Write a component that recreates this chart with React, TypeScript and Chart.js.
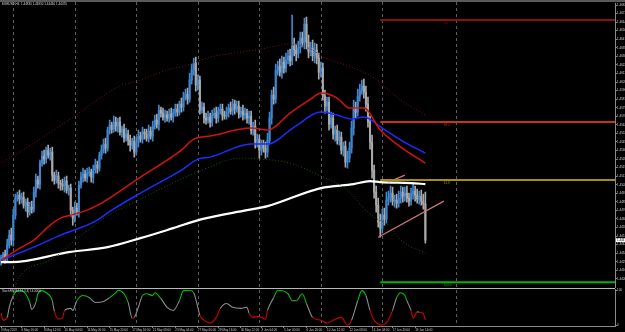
import React, { useEffect, useRef } from "react";
import { Chart, registerables } from "chart.js";

Chart.register(...registerables);

// ---------------- data ----------------
// Prices are kept in pips above 1.44000 (1 pip = 0.0001)
const BASE_PRICE = 1.44;
const PIP = 0.0001;
const SYMBOL = "EURUSD,H4";
const OSC_TITLE = "StochRSI(14,14,3,3)";

const firstOpen = 27;
const closes = [
  29, 33, 30, 42, 52, 47, 72, 89, 92, 88,
  90, 82, 85, 75, 80, 78, 95, 107, 103, 124,
  131, 128, 137, 132, 135, 112, 107, 111, 104, 103,
  101, 106, 97, 99, 77, 69, 79, 75, 102, 110,
  113, 109, 114, 115, 110, 117, 122, 119, 132, 137,
  143, 139, 157, 162, 158, 165, 161, 165, 155, 158,
  149, 153, 147, 142, 146, 135, 145, 151, 148, 155,
  153, 149, 156, 151, 161, 167, 163, 177, 174, 170,
  172, 169, 173, 170, 174, 178, 175, 183, 180, 190,
  193, 188, 207, 217, 224, 202, 207, 177, 180, 169,
  167, 170, 165, 172, 174, 169, 176, 178, 172, 171,
  175, 179, 176, 183, 178, 181, 173, 176, 172, 174,
  169, 171, 157, 161, 145, 148, 137, 142, 139, 135,
  147, 169, 192, 188, 217, 221, 215, 225, 219, 227,
  231, 226, 241, 237, 233, 239, 249, 244, 263, 245,
  235, 239, 231, 237, 229, 215, 219, 191, 181, 185,
  163, 169, 153, 157, 147, 150, 137, 141, 125, 129,
  139, 159, 179, 175, 191, 197, 201, 195, 183, 165,
  145, 117, 95, 82, 65, 59, 72, 68, 87, 90,
  94, 86, 87, 84, 89, 95, 91, 94, 89, 86,
  93, 96, 92, 88, 91, 86, 83, 47,
];
const wickUp = [
  3, 2, 4, 6, 5, 7, 6, 4, 3, 5,
  4, 5, 3, 4, 5, 6, 5, 6, 4, 3,
  5, 6, 3, 5, 4, 5, 3, 6, 4, 3,
  5, 4, 5, 3, 4, 3, 6, 5, 4, 5,
  6, 4, 5, 5, 3, 5, 6, 4, 3, 5,
  5, 6, 3, 5, 3, 6, 5, 4, 5, 3,
  5, 6, 4, 5, 3, 5, 5, 6, 4, 5,
  3, 5, 6, 4, 5, 5, 6, 5, 3, 5,
  5, 4, 5, 6, 4, 5, 5, 3, 6, 5,
  5, 6, 7, 6, 5, 6, 5, 4, 5, 4,
  5, 6, 4, 5, 5, 6, 4, 5, 5, 4,
  5, 4, 6, 5, 4, 5, 5, 4, 6, 5,
  4, 5, 5, 4, 6, 5, 4, 5, 5, 6,
  7, 6, 5, 8, 6, 5, 7, 6, 5, 7,
  6, 7, 31, 8, 6, 7, 6, 6, 6, 7,
  7, 6, 8, 7, 6, 5, 6, 5, 6, 5,
  5, 6, 5, 4, 5, 6, 5, 4, 5, 7,
  6, 7, 8, 6, 7, 6, 6, 7, 6, 7,
  6, 7, 5, 6, 7, 8, 6, 7, 8, 6,
  7, 6, 5, 6, 7, 6, 5, 6, 7, 5,
  6, 7, 5, 6, 5, 6, 7, 12,
];
const wickDown = [
  5, 3, 6, 4, 3, 5, 6, 4, 3, 5,
  4, 3, 6, 5, 3, 4, 3, 5, 4, 5,
  3, 5, 4, 3, 5, 6, 4, 3, 5, 6,
  4, 6, 3, 5, 6, 7, 4, 3, 5, 3,
  5, 3, 4, 3, 5, 6, 3, 5, 3, 4,
  3, 5, 3, 4, 4, 3, 5, 6, 3, 5,
  4, 3, 5, 6, 4, 5, 3, 5, 3, 4,
  5, 3, 4, 3, 5, 3, 4, 6, 4, 3,
  5, 3, 4, 3, 5, 3, 4, 3, 5, 4,
  3, 5, 3, 4, 5, 6, 5, 4, 3, 5,
  4, 3, 5, 4, 3, 5, 4, 3, 5, 3,
  3, 5, 3, 4, 5, 3, 4, 3, 5, 4,
  5, 6, 4, 5, 6, 5, 8, 5, 4, 6,
  5, 4, 6, 5, 4, 5, 4, 6, 5, 4,
  4, 5, 4, 6, 7, 4, 5, 4, 6, 7,
  6, 4, 5, 7, 6, 7, 5, 4, 7, 5,
  6, 4, 5, 7, 4, 5, 4, 6, 5, 6,
  4, 5, 7, 6, 4, 5, 4, 6, 7, 5,
  7, 8, 6, 7, 5, 9, 5, 6, 4, 5,
  5, 4, 6, 5, 4, 5, 6, 5, 4, 5,
  4, 5, 6, 4, 5, 4, 5, 3,
];

// moving averages / bands: bar index + level (pips)
const whiteBars = [0, 5, 33, 52, 68, 84, 98, 120, 130, 156, 172, 180, 185, 200, 207];
const whitePips = [25, 25, 35, 40, 49, 59, 68, 77, 81, 99, 103, 106, 105, 104, 103];
const redBars = [0, 10, 16, 24, 29, 34, 42, 49, 68, 88, 94, 102, 122, 130, 141, 151, 156, 164, 170, 177, 185, 195, 207];
const redPips = [27, 40, 47, 62, 69, 72, 77, 84, 110, 137, 148, 151, 159, 157, 174, 188, 194, 189, 179, 179, 157, 140, 124];
const blueBars = [0, 10, 16, 29, 42, 47, 54, 68, 88, 96, 102, 122, 130, 143, 156, 164, 171, 177, 186, 195, 207];
const bluePips = [27, 35, 40, 52, 62, 67, 77, 94, 117, 128, 130, 143, 143, 160, 175, 172, 168, 170, 159, 147, 134];
const lowerBandBars = [7, 8, 24, 38, 54, 60, 98, 117, 127, 141, 155, 169, 177, 182, 189, 195, 207];
const lowerBandPips = [0, 7, 27, 50, 74, 80, 117, 129, 128, 124, 112, 97, 79, 70, 62, 47, 34];
const upperBandBars = [0, 16, 33, 47, 57, 68, 81, 91, 102, 114, 127, 141, 151, 158, 171, 182, 195, 207];
const upperBandPips = [124, 144, 167, 187, 200, 207, 217, 222, 230, 234, 238, 243, 238, 229, 220, 209, 187, 172];

// Fibonacci levels
const fibLabels = ["0.0", "38.2", "61.8", "100.0"];
const fibPips = [267, 165, 107, 5];
const fibStartBar = 185;
const fibLabelBar = 216;

// trend lines
const trendABars = [184, 216];
const trendAPips = [50, 86];
const trendBBars = [189, 197];
const trendBPips = [105, 112];

// period separators (bar index)
const separatorBars = [6, 36, 66, 96, 126, 156, 186, 222];

// oscillator
const oscBars = [0, 1, 3, 4, 6, 8, 10, 12, 14, 15, 17, 18, 20, 22, 25, 26, 28, 30, 31, 34, 35, 37, 40, 43, 46, 50, 53, 56, 57, 60, 62, 64, 65, 67, 69, 71, 74, 75, 78, 81, 84, 87, 89, 92, 94, 96, 97, 99, 102, 105, 107, 110, 113, 117, 120, 121, 123, 125, 127, 129, 130, 133, 135, 140, 142, 144, 147, 149, 152, 156, 159, 162, 166, 169, 171, 174, 176, 178, 180, 182, 186, 188, 191, 193, 195, 197, 198, 200, 201, 203, 204, 206, 207];
const oscValues = [34, 14, 22, 51, 85, 99, 99, 90, 65, 45, 65, 90, 99, 93, 70, 40, 17, 20, 42, 48, 42, 70, 85, 79, 65, 68, 79, 93, 100, 90, 65, 20, 22, 51, 85, 90, 85, 93, 76, 51, 42, 70, 99, 100, 93, 51, 28, 14, 6, 22, 48, 62, 51, 48, 51, 34, 22, 25, 22, 17, 42, 79, 100, 90, 70, 70, 90, 62, 22, 14, 6, 14, 22, 0, 14, 70, 99, 85, 42, 14, 0, 6, 42, 79, 93, 85, 70, 42, 20, 38, 37, 33, 14];

// time axis
const timeLabelBars = [0, 10, 21, 31, 42, 53, 64, 74, 85, 96, 106, 117, 127, 138, 149, 159, 170, 181, 191, 202];
const timeLabels = [
  "3 May 2013", "6 May 16:00", "8 May 12:00", "10 May 04:00", "14 May 00:00",
  "15 May 20:00", "17 May 16:00", "21 May 08:00", "23 May 04:00", "27 May 00:00",
  "28 May 16:00", "30 May 12:00", "3 Jun 04:00", "5 Jun 00:00", "6 Jun 20:00",
  "10 Jun 12:00", "12 Jun 08:00", "14 Jun 04:00", "17 Jun 20:00", "19 Jun 16:00",
];

// axes
const X_MIN = -0.5;
const X_MAX = 299.5;
const Y_MIN_PIPS = 0;
const Y_MAX_PIPS = 284;
const PRICE_TICK_TOP = 282;
const PRICE_TICK_STEP = 8.55;

// ---------------- helpers ----------------
const price = (p: number) => BASE_PRICE + p * PIP;
const UP = "#3f86cf";
const DOWN = "#a9a9a9";
const FONT = "Liberation Sans";
const fibColors = ["#8a1212", "#c8360c", "#a89000", "#00b400"];

const opens = closes.map((c, i) => (i === 0 ? firstOpen : closes[i - 1]));
const candleColors = closes.map((c, i) => (c >= opens[i] ? UP : DOWN));

const pts = (bars: number[], pips: number[]) => bars.map((b, i) => ({ x: b, y: price(pips[i]) }));

const bgPlugin = {
  id: "bg",
  beforeDraw(chart: any) {
    const c = chart.ctx;
    c.save();
    c.fillStyle = "#000";
    c.fillRect(0, 0, chart.width, chart.height);
    c.restore();
  },
};

const sepPlugin = {
  id: "sep",
  beforeDatasetsDraw(chart: any) {
    const { ctx, chartArea, scales } = chart;
    ctx.save();
    ctx.strokeStyle = "#5e5e5e";
    ctx.lineWidth = 1;
    ctx.setLineDash([3, 3]);
    for (const b of separatorBars) {
      const x = Math.round(scales.x.getPixelForValue(b)) + 0.5;
      ctx.beginPath();
      ctx.moveTo(x, 2);
      ctx.lineTo(x, chartArea.bottom);
      ctx.stroke();
    }
    ctx.restore();
  },
};

const mainOverlay = {
  id: "mainOverlay",
  afterDraw(chart: any) {
    const { ctx, scales } = chart;
    const xs = scales.x;
    const ys = scales.y;
    ctx.save();
    // top strip + title
    ctx.fillStyle = "#5a5a5a";
    ctx.fillRect(0, 0, chart.width, 2);
    const n = closes.length - 1;
    const hi = Math.max(opens[n], closes[n]) + wickUp[n];
    const lo = Math.min(opens[n], closes[n]) - wickDown[n];
    ctx.font = `3px "${FONT}"`;
    ctx.fillStyle = "#d8d8d8";
    ctx.textBaseline = "top";
    ctx.textAlign = "left";
    ctx.fillText(
      `${SYMBOL}  ${price(opens[n]).toFixed(5)} ${price(hi).toFixed(5)} ${price(lo).toFixed(5)} ${price(closes[n]).toFixed(5)}`,
      2,
      2.5
    );
    // fib labels
    fibLabels.forEach((t, k) => {
      ctx.fillStyle = fibColors[k];
      ctx.fillText(t, xs.getPixelForValue(fibLabelBar), ys.getPixelForValue(price(fibPips[k])) + 1.5);
    });
    // current price box
    const y = ys.getPixelForValue(price(closes[n]));
    ctx.fillStyle = "#ffffff";
    ctx.fillRect(ys.left + 1, y - 2, chart.width - ys.left - 1, 4);
    ctx.fillStyle = "#000";
    ctx.textBaseline = "middle";
    ctx.fillText(price(closes[n]).toFixed(5), ys.left + 2, y);
    ctx.restore();
  },
};

const oscOverlay = {
  id: "oscOverlay",
  afterDraw(chart: any) {
    const { ctx, chartArea } = chart;
    ctx.save();
    ctx.strokeStyle = "#b8b8b8";
    ctx.lineWidth = 1;
    ctx.beginPath();
    ctx.moveTo(0, 0.5);
    ctx.lineTo(chartArea.right, 0.5);
    ctx.stroke();
    ctx.font = `3px "${FONT}"`;
    ctx.fillStyle = "#d0d0d0";
    ctx.textBaseline = "top";
    ctx.fillText(`${OSC_TITLE} ${oscValues[oscValues.length - 1].toFixed(4)}`, 2, 2);
    ctx.restore();
  },
};

function lineDs(data: any[], color: string, width: number, extra: any = {}) {
  return {
    type: "line",
    data,
    borderColor: color,
    borderWidth: width,
    pointRadius: 0,
    fill: false,
    cubicInterpolationMode: "monotone",
    order: 1,
    ...extra,
  };
}

function mainConfig(): any {
  const bodies = closes.map((c, i) => ({ x: i, y: [price(opens[i]), price(c)] }));
  const wicks = closes.map((c, i) => ({
    x: i,
    y: [price(Math.min(opens[i], c) - wickDown[i]), price(Math.max(opens[i], c) + wickUp[i])],
  }));
  const priceTicks: number[] = [];
  for (let p = PRICE_TICK_TOP; p >= Y_MIN_PIPS; p -= PRICE_TICK_STEP) priceTicks.unshift(p);

  const datasets: any[] = [
    { type: "bar", data: wicks, backgroundColor: candleColors, barThickness: 1, grouped: false, order: 10 },
    { type: "bar", data: bodies, backgroundColor: candleColors, barThickness: 1.4, grouped: false, minBarLength: 1, order: 9 },
    lineDs(pts(upperBandBars, upperBandPips), "#741414", 1, { borderDash: [1, 2] }),
    lineDs(pts(lowerBandBars, lowerBandPips), "#0d5c0d", 1, { borderDash: [1, 2] }),
    lineDs(pts(whiteBars, whitePips), "#ffffff", 2.2),
    lineDs(pts(redBars, redPips), "#d41212", 1.5),
    lineDs(pts(blueBars, bluePips), "#1b2eff", 1.5),
    ...fibPips.map((p, k) =>
      lineDs([{ x: fibStartBar, y: price(p) }, { x: X_MAX, y: price(p) }], fibColors[k], 2, { order: 0 })
    ),
    lineDs(pts(trendABars, trendAPips), "#d27474", 1.2, { order: 0 }),
    lineDs(pts(trendBBars, trendBPips), "#d27474", 1.2, { order: 0 }),
  ];

  return {
    type: "bar",
    data: { datasets },
    options: {
      animation: false,
      responsive: false,
      maintainAspectRatio: false,
      events: [],
      layout: { padding: { top: 3, bottom: 0, left: 0, right: 0 } },
      plugins: { legend: { display: false }, tooltip: { enabled: false }, title: { display: false } },
      scales: {
        x: { type: "linear", min: X_MIN, max: X_MAX, display: false, offset: false },
        y: {
          type: "linear",
          position: "right",
          min: price(Y_MIN_PIPS),
          max: price(Y_MAX_PIPS),
          afterFit: (s: any) => {
            s.width = 10;
          },
          afterBuildTicks: (s: any) => {
            s.ticks = priceTicks.map((p) => ({ value: price(p) }));
          },
          ticks: {
            font: { size: 3, family: FONT },
            color: "#d0d0d0",
            padding: 0,
            callback: (v: any) => Number(v).toFixed(5),
          },
          grid: { drawOnChartArea: false, tickLength: 2, color: "#8a8a8a" },
          border: { color: "#8a8a8a" },
        },
      },
    },
    plugins: [bgPlugin, sepPlugin, mainOverlay],
  };
}

function oscConfig(): any {
  const data = oscBars.map((b, i) => ({ x: b, y: oscValues[i] }));
  return {
    type: "line",
    data: {
      datasets: [
        {
          data,
          borderWidth: 1.1,
          pointRadius: 0,
          fill: false,
          cubicInterpolationMode: "monotone",
          borderColor: "#8a8a8a",
          segment: {
            borderColor: (ctx: any) => {
              const a = (ctx.p0.parsed.y + ctx.p1.parsed.y) / 2;
              if (a >= 75) return "#00c000";
              if (a <= 35) return "#d00000";
              return "#8a8a8a";
            },
          },
        },
      ],
    },
    options: {
      animation: false,
      responsive: false,
      maintainAspectRatio: false,
      events: [],
      layout: { padding: { top: 1, bottom: 0, left: 0, right: 0 } },
      plugins: { legend: { display: false }, tooltip: { enabled: false } },
      scales: {
        x: {
          type: "linear",
          min: X_MIN,
          max: X_MAX,
          offset: false,
          afterFit: (s: any) => {
            s.height = 6;
          },
          afterBuildTicks: (s: any) => {
            s.ticks = timeLabelBars.map((b) => ({ value: b }));
          },
          ticks: {
            autoSkip: false,
            maxRotation: 0,
            minRotation: 0,
            align: "start",
            padding: 0,
            font: { size: 3, family: FONT },
            color: "#c8c8c8",
            callback: (_v: any, i: number) => timeLabels[i] ?? "",
          },
          grid: { drawOnChartArea: false, tickLength: 2, color: "#8a8a8a" },
          border: { color: "#8a8a8a" },
        },
        y: {
          type: "linear",
          position: "right",
          min: -2.8,
          max: 101.4,
          afterFit: (s: any) => {
            s.width = 10;
          },
          afterBuildTicks: (s: any) => {
            s.ticks = [{ value: 0 }, { value: 100 }];
          },
          ticks: { font: { size: 3, family: FONT }, color: "#d0d0d0", padding: 0 },
          grid: { drawOnChartArea: false, tickLength: 2, color: "#8a8a8a" },
          border: { color: "#8a8a8a" },
        },
      },
    },
    plugins: [bgPlugin, sepPlugin, oscOverlay],
  };
}

export default function App() {
  const mainRef = useRef<HTMLCanvasElement>(null);
  const oscRef = useRef<HTMLCanvasElement>(null);

  useEffect(() => {
    const main = new Chart(mainRef.current as HTMLCanvasElement, mainConfig());
    const osc = new Chart(oscRef.current as HTMLCanvasElement, oscConfig());
    return () => {
      main.destroy();
      osc.destroy();
    };
  }, []);

  return (
    <div
      style={{
        position: "fixed",
        left: 0,
        top: 0,
        width: 625,
        height: 332,
        background: "#000",
        overflow: "hidden",
      }}
    >
      <canvas
        ref={mainRef}
        width={625}
        height={289}
        style={{ position: "absolute", left: 0, top: 0, width: 625, height: 289 }}
      />
      <canvas
        ref={oscRef}
        width={625}
        height={44}
        style={{ position: "absolute", left: 0, top: 288, width: 625, height: 44 }}
      />
    </div>
  );
}
